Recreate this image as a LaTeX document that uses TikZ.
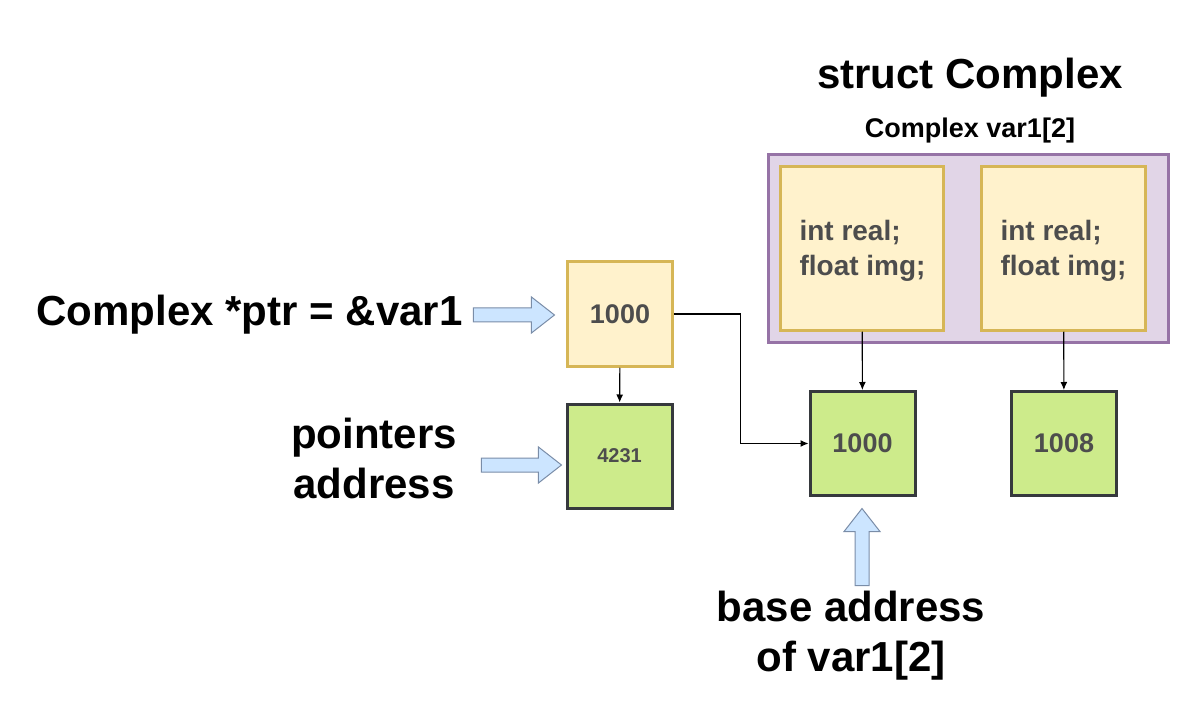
\documentclass[tikz,border=0pt]{standalone}
\usepackage{fontspec}
\setmainfont{Liberation Sans}
\usepackage{tikz}
\usetikzlibrary{arrows.meta,positioning,shapes.arrows}

\definecolor{yellowfill}{HTML}{FFF2CC}
\definecolor{yellowedge}{HTML}{D6B656}
\definecolor{greenfill}{HTML}{CDEB8B}
\definecolor{greenedge}{HTML}{36393D}
\definecolor{purplefill}{HTML}{E1D5E7}
\definecolor{purpleedge}{HTML}{9673A6}
\definecolor{bluefill}{HTML}{CCE5FF}
\definecolor{blueedge}{HTML}{7A8DA8}
\definecolor{boxtext}{HTML}{4D4D4D}

\tikzset{
  bigtext/.style={font=\fontsize{42}{50}\selectfont\bfseries, text=black},
  yellowbox/.style={draw=yellowedge, fill=yellowfill, line width=2.5pt, text=boxtext,
    font=\fontsize{27}{32}\selectfont\bfseries},
  greenbox/.style={draw=greenedge, fill=greenfill, line width=3pt, text=boxtext,
    minimum width=105pt, minimum height=104pt, font=\fontsize{27}{32}\selectfont\bfseries},
  bluearrow/.style={single arrow, draw=blueedge, fill=bluefill, line width=1pt,
    single arrow head extend=11pt, single arrow head indent=0pt, single arrow tip angle=76,
    inner xsep=0pt, inner ysep=6.5pt},
  link/.style={-{Latex[length=8pt,width=7pt]}, line width=1.1pt, black}
}

\begin{document}
\begin{tikzpicture}[x=1pt, y=-1pt]
\useasboundingbox[fill=white] (0,0) rectangle (1196,708);

% struct and its two elements
\node[bigtext] (title) at (970,78) {struct Complex};
\node[font=\fontsize{27}{32}\selectfont\bfseries, below=13pt of title] (subtitle) {Complex var1[2]};
\node[draw=purpleedge, fill=purplefill, line width=3pt, minimum width=400pt, minimum height=188pt] (struct) at (968.5,248.5) {};
\node[yellowbox, minimum width=163pt, minimum height=164pt] (elem1) at (862,248.5) {};
\node[yellowbox, minimum width=164pt, minimum height=164pt] (elem2) at (1063.5,248.5) {};
\node[anchor=west, align=left, text=boxtext, font=\fontsize{28}{35}\selectfont\bfseries] (elemtxt1) at (796,251) {int real;\\float img;};
\node[anchor=west, align=left, text=boxtext, font=\fontsize{28}{35}\selectfont\bfseries] (elemtxt2) at (997,251) {int real;\\float img;};

% addresses
\node[yellowbox, minimum width=105pt, minimum height=105pt] (ptr) at (620,314) {1000};
\node[greenbox, font=\fontsize{20}{24}\selectfont\bfseries] (ptraddr) at (619.5,456) {4231};
\node[greenbox] (base) at (862.5,443.5) {1000};
\node[greenbox] (next) at (1064,443.5) {1008};

\draw[link] (ptr) -- (ptraddr);
\draw[link] (ptr.east) -- ++(67,0) |- (base.west);
\draw[link] (elem1) -- (base);
\draw[link] (elem2) -- (next);

% labels with block arrows
\node[bigtext, anchor=east] (ptrlbl) at (466,315) {Complex *ptr = \&var1};
\node[bluearrow, minimum height=81pt] (ptrarrow) at (509.5,315) {};
\node[bigtext, align=center] (addrlbl) at (374,458) {pointers\\address};
\node[bluearrow, minimum height=80pt] (addrarrow) at (517,465) {};
\node[bigtext, align=center] (baselbl) at (851,636) {base address\\of var1[2]};
\node[bluearrow, minimum height=77pt, inner xsep=6.5pt, inner ysep=0pt, shape border rotate=90] (basearrow) at (862,551.5) {};
\end{tikzpicture}
\end{document}
